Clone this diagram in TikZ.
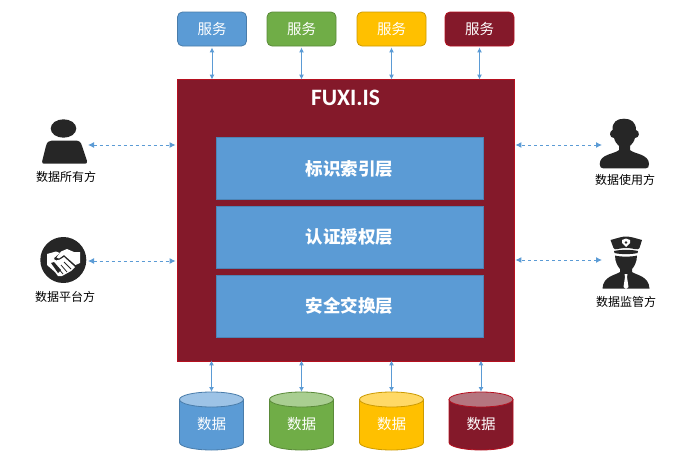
\documentclass[tikz,border=0pt]{standalone}
\usepackage{fontspec}
\setmainfont{Noto Sans CJK SC}
\newfontfamily\latinbold[Scale=1]{Carlito}
\usetikzlibrary{shapes.geometric,arrows.meta}
\definecolor{wine}{HTML}{84192A}
\definecolor{winel}{HTML}{B5101F}
\definecolor{mblue}{HTML}{5B9BD5}
\definecolor{mgreen}{HTML}{70AD47}
\definecolor{myellow}{HTML}{FFC000}
\definecolor{icon}{HTML}{262626}
\newcommand{\dbcyl}[4]{% name, x, fill, border
  \begin{scope}[shift={(#2,0)}]
    \path[draw=#4,fill=#3,line width=.8pt] (-32,399.5) -- (-32,442.5) .. controls (-32,446.6) and (-17.7,450) .. (0,450) .. controls (17.7,450) and (32,446.6) .. (32,442.5) -- (32,399.5) -- cycle;
    \path[draw=#4,fill=#3!60!white,line width=.8pt] (0,399.5) ellipse [x radius=32,y radius=7.5];
    \coordinate (#1) at (0,392);
    \node[dbtext] (#1t) at (0,424) {数据};
  \end{scope}}
\tikzset{
  x=1pt,y=-1pt,
  svc/.style={draw=#1!80!black,fill=#1,rounded corners=5pt,minimum width=69pt,minimum height=34pt,line width=.8pt,text=white,font=\fontsize{14.5}{14.5}\selectfont,inner sep=0pt},
  layer/.style={draw=mblue!85!black,line width=.5pt,fill=mblue,minimum width=267pt,minimum height=62pt,text=white,font=\fontsize{17.5}{17.5}\selectfont\bfseries,inner sep=0pt},
  dbtext/.style={text=white,font=\fontsize{14.5}{14.5}\selectfont,inner sep=0pt},
  vlink/.style={draw=mblue,line width=1pt,{Latex[length=5pt,width=5pt]}-{Latex[length=5pt,width=5pt]}},
  hlink/.style={draw=mblue,line width=1pt,dash pattern=on 3pt off 3pt,{Latex[length=6pt,width=6pt]}-{Latex[length=6pt,width=6pt]}},
  role/.style={text=black,font=\fontsize{12}{12}\selectfont,inner sep=0pt},
}
\begin{document}
\begin{tikzpicture}
\useasboundingbox (0,0) rectangle (691,455);
% main
\node[draw=winel,fill=wine,line width=.8pt,minimum width=337pt,minimum height=282pt,inner sep=0pt] (main) at (345.5,220) {};
\node[text=white,font=\fontsize{23.5}{23.5}\latinbold\bfseries,inner sep=0pt] (title) at (345.5,98) {FUXI.IS};
\node[layer] (l1) at (349.5,168.5) {标识索引层};
\node[layer] (l2) at (349.5,237) {认证授权层};
\node[layer] (l3) at (349.5,306) {安全交换层};
% services
\node[svc=mblue] (s1) at (212,29) {服务};
\node[svc=mgreen] (s2) at (301.5,29) {服务};
\node[svc=myellow] (s3) at (391.5,29) {服务};
\node[svc=wine,draw=winel] (s4) at (479.5,29) {服务};
% data
\dbcyl{d1}{211.5}{mblue}{mblue!80!black}
\dbcyl{d2}{301.5}{mgreen}{mgreen!80!black}
\dbcyl{d3}{391.5}{myellow}{myellow!80!black}
\dbcyl{d4}{481}{wine}{winel}
% vertical links
\foreach \i in {1,2,3,4}{
  \draw[vlink] ([yshift=-1pt]s\i.south) -- ([yshift=-1pt]s\i.south |- main.north);
}
\foreach \i in {1,2,3,4}{
  \draw[vlink] ([yshift=1pt]d\i |- main.south) -- (d\i);
}
% roles
\coordinate (owner) at (88,145);
\coordinate (platform) at (88,261);
\coordinate (user) at (602,145);
\coordinate (police) at (602,260);
\draw[hlink] (owner) -- ([xshift=-1pt]main.west |- owner);
\draw[hlink] (platform) -- ([xshift=-1pt]main.west |- platform);
\draw[hlink] (user) -- ([xshift=1pt]main.east |- user);
\draw[hlink] (police) -- ([xshift=1pt]main.east |- police);
\node[role] (t1) at (66,177) {数据所有方};
\node[role] (t2) at (65,297) {数据平台方};
\node[role] (t3) at (625,180) {数据使用方};
\node[role] (t4) at (626,302) {数据监管方};
% owner icon
\fill[icon] (63.5,128.5) ellipse [x radius=12.8,y radius=9.2];
\fill[icon] (52,140.5) -- (75,140.5) .. controls (79,140.5) and (81,142) .. (82,146) -- (87,161) .. controls (87.3,163) and (86.5,163.7) .. (85,163.7) -- (44,163.7) .. controls (42.5,163.7) and (41.8,163) .. (42.2,161) -- (46,146) .. controls (47,142) and (49,140.5) .. (52,140.5) -- cycle;
% platform icon
\fill[icon] (63.3,260) circle [radius=23];
\begin{scope}[draw=white,fill=white,line join=round]
  \fill[white] (47,254) -- (56,251.5) -- (60,253) -- (54,258) .. controls (54,261) and (58,261) .. (60,259.5) -- (64,257) -- (75,267) -- (71,271) -- (62,276) -- (58,276) -- (55,272) -- (47,265) -- cycle;
  \fill[white] (61,251.5) -- (67,249) -- (74,252) -- (80,252) -- (80,263) -- (75.5,265) -- (64,255) -- (59,258.5) -- (56.5,257.5) -- cycle;
  \fill[icon] (51,263) -- (54,262) -- (61,270) -- (58,273) -- cycle;
  \draw[icon,line width=.8pt] (64,262) -- (71,269) (61,265) -- (67,272) (58,268) -- (63,274);
\end{scope}
% user icon
\fill[icon] (612.5,130) .. controls (612,122) and (617,118.7) .. (624,118.7) .. controls (631,118.7) and (636,122) .. (636,130) .. controls (640,131) and (640,138) .. (635,138) .. controls (634,142) and (632,144) .. (630,146) -- (630,150) .. controls (634,154) and (649,154) .. (649,164) .. controls (649,167) and (648,168.3) .. (646,168.3) -- (603,168.3) .. controls (601,168.3) and (599.7,167) .. (599.7,164) .. controls (599.7,154) and (615,154) .. (619,150) -- (619,146) .. controls (617,144) and (615,142) .. (614,138) .. controls (609,138) and (609,131) .. (612.5,130) -- cycle;
% police icon
\fill[icon] (610.5,240) .. controls (618,238) and (622,236.5) .. (626,236.5) .. controls (630,236.5) and (635,238) .. (642,240) -- (639.5,248) .. controls (638,251) and (634,248) .. (626,248) .. controls (618,248) and (615,251) .. (613.5,248) -- cycle;
\fill[white] (622,243) -- (622,240) -- (626,238.5) -- (630,240) -- (630,243) -- (626,247) -- cycle;
\fill[icon] (626,242.5) circle [radius=1.3];
\fill[icon] (614,251) .. controls (620,249.5) and (632,249.5) .. (638,251) -- (637.5,253) .. controls (632,254.5) and (620,254.5) .. (614.5,253) -- cycle;
\fill[icon] (615,255.5) .. controls (620,257) and (632,257) .. (637,255.5) .. controls (637,262) and (634,267) .. (632,269) -- (632,272) .. controls (636,275) and (649,276) .. (649.5,288.5) -- (602.5,288.5) .. controls (603,276) and (616,275) .. (620,272) -- (620,269) .. controls (618,267) and (615,262) .. (615,255.5) -- cycle;
\fill[white] (624.5,274) -- (627.5,274) -- (627,277) -- (628.5,287) -- (626,289) -- (623.5,287) -- (625,277) -- cycle;
\end{tikzpicture}
\end{document}
